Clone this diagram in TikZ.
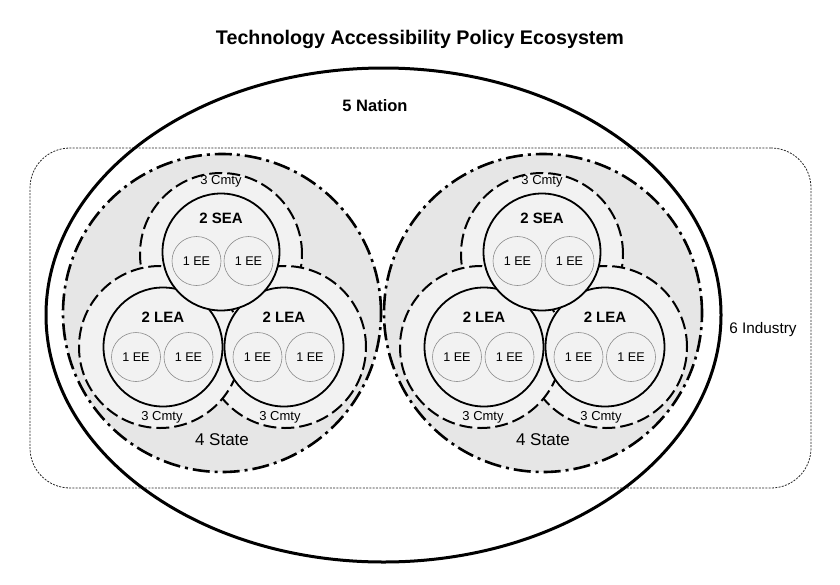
\documentclass[tikz,border=0pt]{standalone}
\usepackage{fontspec}
\setmainfont{Liberation Sans}
\usetikzlibrary{shapes.geometric}
\definecolor{stategray}{HTML}{E6E6E6}
\definecolor{cmtygray}{HTML}{F2F2F2}
\begin{document}
\begin{tikzpicture}[x=1pt,y=-1pt,
  circ/.style={circle, inner sep=0pt, outer sep=0pt},
  statecirc/.style={circ, draw, fill=stategray, line width=2.6pt, dash pattern=on 17pt off 5pt on 3pt off 5pt, minimum size=318pt},
  cmtycirc/.style={circ, draw, fill=cmtygray, line width=2pt, dash pattern=on 13pt off 5pt, minimum size=162pt},
  agencycirc/.style={circ, draw, fill=cmtygray, line width=1.8pt, minimum size=119pt},
  eecirc/.style={circ, draw=black!45, line width=0.6pt, minimum size=49pt, font=\fontsize{12.6}{14}\selectfont},
  lbl/.style={inner sep=0pt, outer sep=0pt, text height=0.716em, text depth=0pt},
  cmtylbl/.style={lbl, font=\fontsize{13}{15}\selectfont},
  agencylbl/.style={lbl, font=\bfseries\fontsize{15}{17}\selectfont},
  statelbl/.style={lbl, font=\fontsize{17}{19}\selectfont},
  nationbox/.style={ellipse, draw, line width=3pt, minimum width=675pt, minimum height=494pt, inner sep=0pt},
  industrybox/.style={rectangle, draw=black!85, line width=0.8pt, dash pattern=on 2pt off 1.3pt, rounded corners=40pt, minimum width=781pt, minimum height=340pt, inner sep=0pt}
]
\useasboundingbox (0,0) rectangle (840,584);
\node[lbl, font=\bfseries\fontsize{19.7}{23}\selectfont] (title) at (420,41) {Technology Accessibility Policy Ecosystem};
\node[industrybox] (industry) at (420.5,318) {};
\node[nationbox] (nation) at (383.5,315) {};
\node[lbl, font=\bfseries\fontsize{16.5}{19}\selectfont] (nationlbl) at (375,108) {5 Nation};
\node[lbl, font=\fontsize{15.3}{18}\selectfont] (industrylbl) at (763,330) {6 Industry};
\foreach \s/\dx in {L/0,R/321}{
\begin{scope}[xshift=\dx pt]
  \node[statecirc] (state\s) at (222,313) {};
  \node[cmtycirc] (seacmty\s) at (221,254) {};
  \node[cmtycirc] (leacmtyB\s) at (285,347) {};
  \node[cmtycirc] (leacmtyA\s) at (160,347) {};
  \node[agencycirc] (leaA\s) at (163,347) {};
  \node[agencycirc] (leaB\s) at (284,347) {};
  \node[agencycirc, minimum size=117pt] (sea\s) at (221,252) {};
  \node[eecirc] (seaeeA\s) at (196.5,261) {1 EE};
  \node[eecirc] (seaeeB\s) at (248.5,261) {1 EE};
  \node[eecirc] (leaAeeA\s) at (136,357) {1 EE};
  \node[eecirc] (leaAeeB\s) at (188.5,357) {1 EE};
  \node[eecirc] (leaBeeA\s) at (257.5,357) {1 EE};
  \node[eecirc] (leaBeeB\s) at (310,357) {1 EE};
  \node[cmtylbl] (seacmtylbl\s) at (221,181) {3 Cmty};
  \node[agencylbl] (sealbl\s) at (221,220) {2 SEA};
  \node[agencylbl] (leaAlbl\s) at (163,319) {2 LEA};
  \node[agencylbl] (leaBlbl\s) at (284,319) {2 LEA};
  \node[cmtylbl] (leacmtyAlbl\s) at (162,416.5) {3 Cmty};
  \node[cmtylbl] (leacmtyBlbl\s) at (280,416.5) {3 Cmty};
  \node[statelbl] (statelbl\s) at (222,442) {4 State};
\end{scope}
}
\end{tikzpicture}
\end{document}
